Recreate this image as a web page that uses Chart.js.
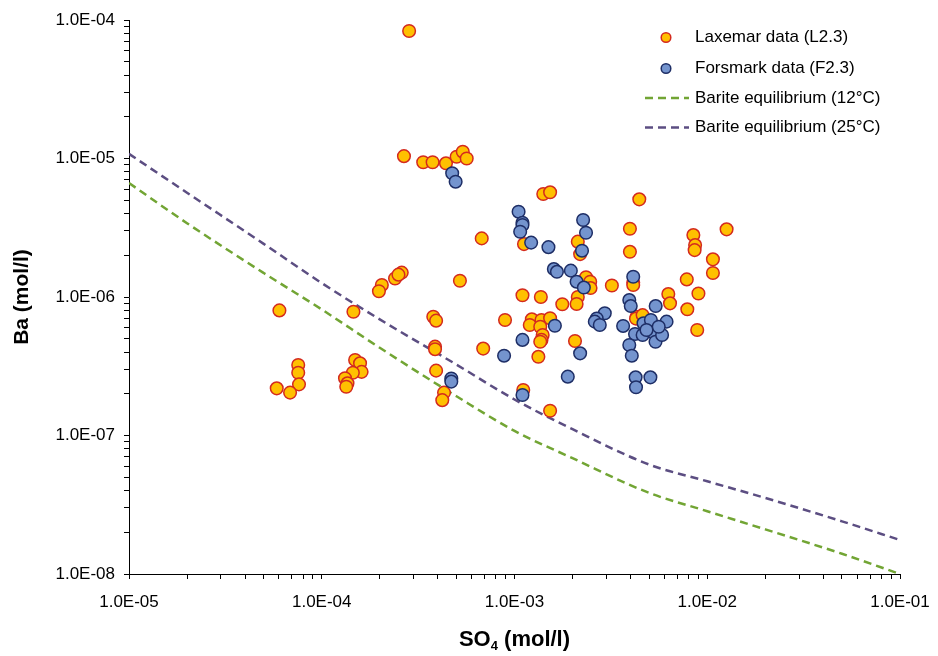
<!DOCTYPE html>
<html>
<head>
<meta charset="utf-8">
<script src="https://cdn.jsdelivr.net/npm/chart.js@4.4.0/dist/chart.umd.min.js"></script>
<style>
  html, body { margin: 0; padding: 0; background: #ffffff; }
  #c { display: block; }
</style>
</head>
<body>
<canvas id="c" width="938" height="656"></canvas>
<script>
// SO4 and Ba concentrations (mol/l), Laxemar groundwater samples (L2.3)
const laxemarSO4 = [
  2.84e-4, 2.67e-4, 3.36e-4, 3.76e-4, 4.41e-4, 5.01e-4, 5.39e-4, 5.65e-4,
  6.03e-5, 1.46e-4, 2.05e-4, 1.98e-4, 2.40e-4, 2.60e-4, 2.50e-4, 5.21e-4,
  3.79e-4, 3.92e-4, 3.87e-4, 3.87e-4, 3.92e-4, 4.31e-4, 4.22e-4, 6.88e-4,
  7.55e-5, 7.55e-5, 7.62e-5, 5.84e-5, 6.85e-5, 1.49e-4, 1.58e-4, 1.61e-4,
  1.45e-4, 1.32e-4, 1.36e-4, 1.34e-4, 6.76e-4, 1.41e-3, 1.53e-3, 4.44e-3,
  1.12e-3, 2.13e-3, 2.19e-3, 3.97e-3, 3.97e-3, 8.47e-3, 8.65e-3, 8.60e-3,
  1.26e-2, 1.07e-2, 1.07e-2, 7.83e-3, 9.00e-3, 6.28e-3, 6.41e-3, 7.88e-3,
  8.87e-3, 2.35e-3, 2.47e-3, 2.48e-3, 2.13e-3, 2.10e-3, 3.20e-3, 4.13e-3,
  4.13e-3, 1.10e-3, 1.37e-3, 1.77e-3, 8.93e-4, 1.23e-3, 1.38e-3, 1.53e-3,
  1.20e-3, 1.36e-3, 1.40e-3, 1.38e-3, 1.36e-3, 1.33e-3, 2.06e-3, 1.11e-3,
  1.53e-3, 4.30e-3, 4.27e-3, 4.62e-3
];
const laxemarBa = [
  8.33e-5, 1.04e-5, 9.40e-6, 9.40e-6, 9.23e-6, 1.03e-5, 1.12e-5, 1.00e-5,
  8.00e-7, 7.83e-7, 1.22e-6, 1.10e-6, 1.36e-6, 1.50e-6, 1.45e-6, 1.31e-6,
  7.20e-7, 6.75e-7, 4.38e-7, 4.20e-7, 2.94e-7, 2.04e-7, 1.80e-7, 4.24e-7,
  3.23e-7, 2.84e-7, 2.34e-7, 2.19e-7, 2.04e-7, 3.51e-7, 3.32e-7, 2.88e-7,
  2.84e-7, 2.59e-7, 2.38e-7, 2.25e-7, 2.65e-6, 5.54e-6, 5.70e-6, 5.07e-6,
  2.41e-6, 2.51e-6, 2.04e-6, 3.11e-6, 2.12e-6, 2.80e-6, 2.37e-6, 2.18e-6,
  3.08e-6, 1.87e-6, 1.49e-6, 1.34e-6, 1.06e-6, 1.05e-6, 9.00e-7, 8.15e-7,
  5.78e-7, 1.39e-6, 1.29e-6, 1.16e-6, 1.00e-6, 8.90e-7, 1.21e-6, 1.27e-6,
  1.22e-6, 1.03e-6, 1.00e-6, 8.86e-7, 6.82e-7, 6.90e-7, 6.82e-7, 7.02e-7,
  6.28e-7, 6.10e-7, 5.32e-7, 4.90e-7, 4.75e-7, 3.70e-7, 4.81e-7, 2.13e-7,
  1.51e-7, 7.20e-7, 6.98e-7, 7.40e-7
];

// SO4 and Ba concentrations (mol/l), Forsmark groundwater samples (F2.3)
const forsmarkSO4 = [
  4.75e-4, 4.95e-4, 4.70e-4, 4.70e-4, 1.05e-3, 1.10e-3, 1.10e-3, 1.07e-3,
  1.22e-3, 1.50e-3, 2.27e-3, 2.35e-3, 2.24e-3, 1.60e-3, 1.66e-3, 1.96e-3,
  2.10e-3, 2.29e-3, 4.13e-3, 3.94e-3, 4.01e-3, 5.40e-3, 2.94e-3, 2.67e-3,
  2.61e-3, 2.77e-3, 3.66e-3, 1.62e-3, 4.22e-3, 4.62e-3, 4.98e-3, 5.18e-3,
  5.39e-3, 5.83e-3, 6.15e-3, 4.67e-3, 5.10e-3, 3.94e-3, 4.06e-3, 1.10e-3,
  8.83e-4, 2.19e-3, 1.89e-3, 1.10e-3, 4.25e-3, 5.07e-3, 4.27e-3, 5.60e-3,
  4.84e-3
];
const forsmarkBa = [
  7.82e-6, 6.80e-6, 2.58e-7, 2.45e-7, 4.13e-6, 3.44e-6, 3.31e-6, 2.96e-6,
  2.47e-6, 2.29e-6, 3.60e-6, 2.91e-6, 2.16e-6, 1.59e-6, 1.52e-6, 1.55e-6,
  1.29e-6, 1.17e-6, 1.40e-6, 9.50e-7, 8.60e-7, 8.60e-7, 7.63e-7, 7.00e-7,
  6.64e-7, 6.28e-7, 6.18e-7, 6.20e-7, 5.41e-7, 5.32e-7, 6.18e-7, 5.62e-7,
  4.75e-7, 5.32e-7, 6.64e-7, 6.46e-7, 6.82e-7, 4.50e-7, 3.77e-7, 4.90e-7,
  3.77e-7, 3.92e-7, 2.66e-7, 1.96e-7, 2.63e-7, 2.63e-7, 2.23e-7, 6.10e-7,
  5.78e-7
];

// Barite saturation curves: Ba at equilibrium for a given SO4
const bariteSO4 = [1e-5, 2e-5, 5e-5, 1e-4, 2e-4, 5e-4, 1e-3, 2e-3, 5e-3, 1e-2, 2e-2, 5e-2, 1e-1];
const barite12C = [6.65e-6, 3.41e-6, 1.49e-6, 8.13e-7, 4.30e-7, 1.92e-7, 1.08e-7, 6.86e-8, 3.85e-8, 2.84e-8, 2.10e-8, 1.40e-8, 1.00e-8];
const barite25C = [1.08e-5, 5.66e-6, 2.42e-6, 1.26e-6, 6.89e-7, 3.25e-7, 1.82e-7, 1.11e-7, 6.17e-8, 4.67e-8, 3.54e-8, 2.40e-8, 1.76e-8];

// Axis decades and their labels
const xDecades = [-5, -4, -3, -2, -1];
const xTickLabels = ['1.0E-05', '1.0E-04', '1.0E-03', '1.0E-02', '1.0E-01'];
const yDecades = [-8, -7, -6, -5, -4];
const yTickLabels = ['1.0E-08', '1.0E-07', '1.0E-06', '1.0E-05', '1.0E-04'];

const seriesNames = ['Laxemar data (L2.3)', 'Forsmark data (F2.3)', 'Barite equilibrium (12°C)', 'Barite equilibrium (25°C)'];
const xTitleMain = 'SO';
const xTitleSub = '4';
const xTitleRest = ' (mol/l)';
const yTitle = 'Ba (mol/l)';

const FONT = '"Liberation Sans", Arial, sans-serif';
const LAX_FILL = '#FFC000', LAX_EDGE = '#D42A1E';
const FOR_FILL = '#7494CE', FOR_EDGE = '#1E2E66';
const GREEN = '#72A534', PURPLE = '#5C4E82';
const DASH = [8, 5];

const toPoints = (xs, ys) => xs.map((x, i) => ({ x, y: ys[i] }));

// every decade gets minor ticks at 2..9
function logTicks(decades) {
  const t = [];
  for (let k = 0; k < decades.length - 1; k++) {
    const p = Math.pow(10, decades[k]);
    for (let m = 1; m < 10; m++) t.push({ value: m * p, major: m === 1 });
  }
  t.push({ value: Math.pow(10, decades[decades.length - 1]), major: true });
  return t;
}
function decadeLabel(value, decades, labels) {
  const k = Math.log10(value);
  const r = Math.round(k);
  if (Math.abs(k - r) > 1e-6) return '';
  const i = decades.indexOf(r);
  return i >= 0 ? labels[i] : '';
}

const titlesAndLegend = {
  id: 'titlesAndLegend',
  afterDraw(chart) {
    const ctx = chart.ctx;
    const a = chart.chartArea;
    ctx.save();
    ctx.fillStyle = '#000';

    // y axis title
    ctx.save();
    ctx.translate(22, (a.top + a.bottom) / 2);
    ctx.rotate(-Math.PI / 2);
    ctx.font = 'bold 21px ' + FONT;
    ctx.textAlign = 'center';
    ctx.textBaseline = 'middle';
    ctx.fillText(yTitle, 0, 0);
    ctx.restore();

    // x axis title with subscript
    const big = 'bold 22px ' + FONT, small = 'bold 13px ' + FONT;
    ctx.font = big;
    const w1 = ctx.measureText(xTitleMain).width;
    const w3 = ctx.measureText(xTitleRest).width;
    ctx.font = small;
    const w2 = ctx.measureText(xTitleSub).width;
    let x = (a.left + a.right) / 2 - (w1 + w2 + w3) / 2;
    const y = 640;
    ctx.textAlign = 'left';
    ctx.textBaseline = 'middle';
    ctx.font = big; ctx.fillText(xTitleMain, x, y); x += w1;
    ctx.font = small; ctx.fillText(xTitleSub, x, y + 6); x += w2;
    ctx.font = big; ctx.fillText(xTitleRest, x, y);

    // legend
    const rows = [37.5, 68.5, 98, 127.5];
    ctx.font = '17px ' + FONT;
    chart.data.datasets.forEach((ds, i) => {
      const yy = rows[i];
      if (ds.showLine) {
        ctx.save();
        ctx.strokeStyle = ds.borderColor;
        ctx.lineWidth = ds.borderWidth;
        ctx.setLineDash(ds.borderDash);
        ctx.beginPath();
        ctx.moveTo(645, yy);
        ctx.lineTo(689, yy);
        ctx.stroke();
        ctx.restore();
      } else {
        ctx.beginPath();
        ctx.arc(666, yy, 4.8, 0, Math.PI * 2);
        ctx.fillStyle = ds.backgroundColor;
        ctx.fill();
        ctx.lineWidth = 1.5;
        ctx.strokeStyle = ds.borderColor;
        ctx.stroke();
      }
      ctx.fillStyle = '#000';
      ctx.fillText(ds.label, 695, yy);
    });
    ctx.restore();
  }
};

const axisCommon = {
  type: 'logarithmic',
  grid: { drawOnChartArea: false, drawTicks: true, tickLength: 5, color: '#000', lineWidth: 1 },
  border: { display: true, color: '#000', width: 1 },
};

new Chart(document.getElementById('c'), {
  type: 'scatter',
  data: {
    datasets: [
      {
        label: seriesNames[0],
        data: toPoints(laxemarSO4, laxemarBa),
        backgroundColor: LAX_FILL, borderColor: LAX_EDGE, borderWidth: 1.5,
        pointRadius: 6.3, order: 1
      },
      {
        label: seriesNames[1],
        data: toPoints(forsmarkSO4, forsmarkBa),
        backgroundColor: FOR_FILL, borderColor: FOR_EDGE, borderWidth: 1.5,
        pointRadius: 6.3, order: 0
      },
      {
        label: seriesNames[2],
        data: toPoints(bariteSO4, barite12C),
        showLine: true, borderColor: GREEN, borderWidth: 2.5, borderDash: DASH,
        pointRadius: 0, fill: false, cubicInterpolationMode: 'monotone', order: 2
      },
      {
        label: seriesNames[3],
        data: toPoints(bariteSO4, barite25C),
        showLine: true, borderColor: PURPLE, borderWidth: 2.5, borderDash: DASH,
        pointRadius: 0, fill: false, cubicInterpolationMode: 'monotone', order: 3
      }
    ]
  },
  options: {
    responsive: false,
    animation: false,
    devicePixelRatio: 1,
    layout: { padding: { left: 0, right: 38, top: 20, bottom: 0 } },
    plugins: { legend: { display: false }, tooltip: { enabled: false } },
    scales: {
      x: Object.assign({}, axisCommon, {
        min: Math.pow(10, xDecades[0]),
        max: Math.pow(10, xDecades[xDecades.length - 1]),
        afterBuildTicks: s => { s.ticks = logTicks(xDecades); },
        afterFit: s => { s.height = 82; s.paddingLeft = 0; s.paddingRight = 0; },
        ticks: {
          autoSkip: false, maxRotation: 0, minRotation: 0, padding: 13,
          color: '#000', font: { family: FONT, size: 17 },
          callback: v => decadeLabel(v, xDecades, xTickLabels)
        }
      }),
      y: Object.assign({}, axisCommon, {
        min: Math.pow(10, yDecades[0]),
        max: Math.pow(10, yDecades[yDecades.length - 1]),
        afterBuildTicks: s => { s.ticks = logTicks(yDecades); },
        afterFit: s => { s.width = 129; s.paddingTop = 0; s.paddingBottom = 0; },
        ticks: {
          autoSkip: false, padding: 9,
          color: '#000', font: { family: FONT, size: 17 },
          callback: v => decadeLabel(v, yDecades, yTickLabels)
        }
      })
    }
  },
  plugins: [titlesAndLegend]
});
</script>
</body>
</html>
